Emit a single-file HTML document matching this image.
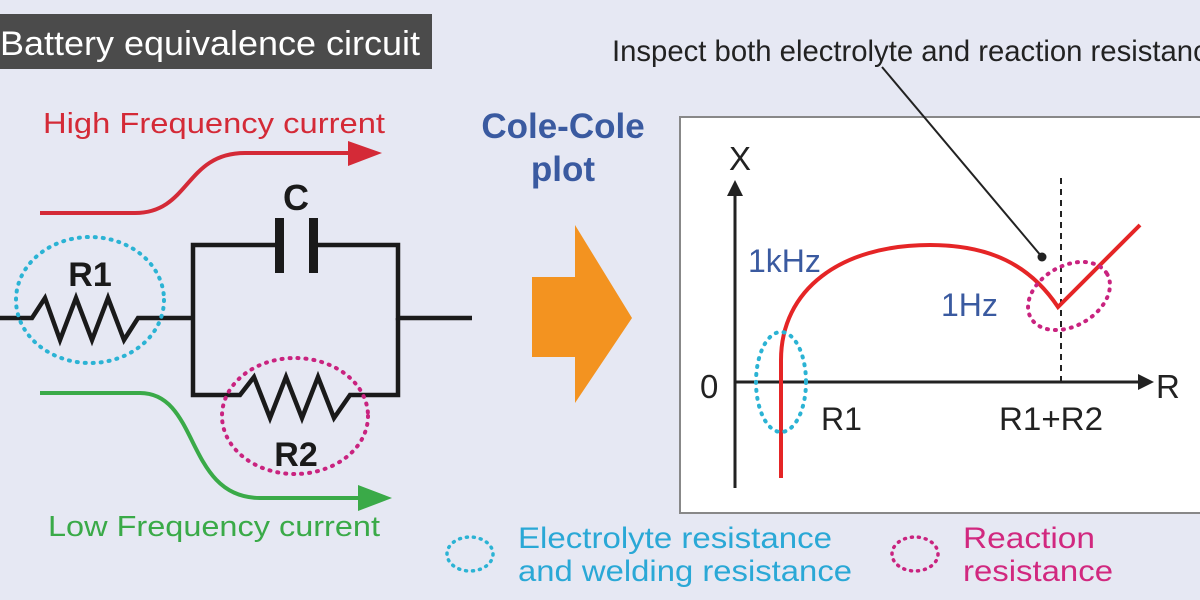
<!DOCTYPE html>
<html><head><meta charset="utf-8"><style>
html,body{margin:0;padding:0;background:#e6e8f3;}
svg{display:block;font-family:"Liberation Sans",sans-serif;}
</style></head><body>
<svg width="1200" height="600" viewBox="0 0 1200 600" xmlns="http://www.w3.org/2000/svg">
<rect width="1200" height="600" fill="#e6e8f3"/>
<!-- title -->
<rect x="0" y="14" width="432" height="55" fill="#4b4b4b"/>
<text x="0" y="55" font-size="34" fill="#fff" textLength="420" lengthAdjust="spacingAndGlyphs">Battery equivalence circuit</text>

<!-- High freq -->
<text x="43" y="133" font-size="29" fill="#d42a37" textLength="342" lengthAdjust="spacingAndGlyphs">High Frequency current</text>
<path d="M40 213 L135 213 C190 213 185 153 245 153 L352 153" fill="none" stroke="#d42a37" stroke-width="4"/>
<polygon points="348,141 382,153 348,166" fill="#d42a37"/>

<!-- Low freq -->
<path d="M40 393 L140 393 C200 393 185 498 260 498 L362 498" fill="none" stroke="#3aaa48" stroke-width="4"/>
<polygon points="358,485 392,498 358,511" fill="#3aaa48"/>
<text x="48" y="536" font-size="29" fill="#3aaa48" textLength="332" lengthAdjust="spacingAndGlyphs">Low Frequency current</text>

<!-- circuit -->
<g stroke="#1a1a1a" stroke-width="4.5" fill="none" stroke-linejoin="miter">
<path d="M0 318 L32 318 L45 298 L60 340 L76 298 L92 340 L108 298 L124 340 L138 318 L193 318"/>
<path d="M193 318 L193 245 L280 245 M313 245 L398 245 L398 318 L472 318"/>
<path d="M193 318 L193 395 L240 395 L254 377 L270 418 L286 377 L302 418 L318 377 L334 418 L350 395 L398 395 L398 318"/>
</g>
<rect x="275" y="218" width="9" height="55" fill="#1a1a1a"/>
<rect x="309" y="218" width="9" height="55" fill="#1a1a1a"/>
<text x="296" y="210" font-size="36" font-weight="bold" fill="#1a1a1a" text-anchor="middle">C</text>
<text x="90" y="286" font-size="34" font-weight="bold" fill="#1a1a1a" text-anchor="middle">R1</text>
<text x="296" y="466" font-size="34" font-weight="bold" fill="#1a1a1a" text-anchor="middle">R2</text>
<ellipse cx="90" cy="300" rx="74" ry="63" fill="none" stroke="#2bb3d4" stroke-width="4" stroke-dasharray="1 7" stroke-linecap="round"/>
<ellipse cx="295" cy="416" rx="73" ry="58" fill="none" stroke="#c9237f" stroke-width="4" stroke-dasharray="1 7" stroke-linecap="round"/>

<!-- Cole-Cole -->
<text x="563" y="138" font-size="35" font-weight="bold" fill="#3a5aa0" text-anchor="middle">Cole-Cole</text>
<text x="563" y="181" font-size="35" font-weight="bold" fill="#3a5aa0" text-anchor="middle">plot</text>
<polygon points="532,277 575,277 575,225 632,318 575,403 575,357 532,357" fill="#f39320"/>

<!-- plot box -->
<rect x="680" y="117" width="540" height="396" fill="#fff" stroke="#888" stroke-width="2"/>
<text x="612" y="61" font-size="30" fill="#222" textLength="612" lengthAdjust="spacingAndGlyphs">Inspect both electrolyte and reaction resistance</text>
<line x1="882" y1="67" x2="1042" y2="257" stroke="#222" stroke-width="2"/>
<circle cx="1042" cy="257" r="4.5" fill="#222"/>

<!-- axes -->
<line x1="735" y1="488" x2="735" y2="195" stroke="#222" stroke-width="3"/>
<polygon points="727,196 735,180 743,196" fill="#222"/>
<line x1="735" y1="382" x2="1140" y2="382" stroke="#222" stroke-width="3"/>
<polygon points="1138,374 1154,382 1138,390" fill="#222"/>
<line x1="1061" y1="178" x2="1061" y2="382" stroke="#222" stroke-width="2" stroke-dasharray="6 5"/>
<text x="740" y="170" font-size="33" fill="#222" text-anchor="middle">X</text>
<text x="1156" y="398" font-size="33" fill="#222">R</text>
<text x="700" y="398" font-size="33" fill="#222">0</text>
<text x="821" y="430" font-size="32" fill="#222">R1</text>
<text x="999" y="430" font-size="32" fill="#222" textLength="104" lengthAdjust="spacingAndGlyphs">R1+R2</text>
<text x="748" y="272" font-size="32" fill="#3a5aa0">1kHz</text>
<text x="941" y="316" font-size="32" fill="#3a5aa0">1Hz</text>

<path d="M781 478 L781 360 C781 290 840 245 930 245 C990 245 1030 265 1058 307 L1140 225" fill="none" stroke="#e52526" stroke-width="4"/>
<ellipse cx="781" cy="382" rx="25" ry="50" fill="none" stroke="#2bb3d4" stroke-width="4" stroke-dasharray="1 7" stroke-linecap="round"/>
<ellipse cx="1069" cy="296" rx="44" ry="30" transform="rotate(-30 1069 296)" fill="none" stroke="#c9237f" stroke-width="4" stroke-dasharray="1 7" stroke-linecap="round"/>

<!-- legend -->
<ellipse cx="470" cy="554" rx="23" ry="17" fill="none" stroke="#2bb3d4" stroke-width="3.5" stroke-dasharray="1 6" stroke-linecap="round"/>
<text x="518" y="548" font-size="30" fill="#2aa8d6" textLength="314" lengthAdjust="spacingAndGlyphs">Electrolyte resistance</text>
<text x="518" y="581" font-size="30" fill="#2aa8d6" textLength="334" lengthAdjust="spacingAndGlyphs">and welding resistance</text>
<ellipse cx="915" cy="554" rx="23" ry="17" fill="none" stroke="#c9237f" stroke-width="3.5" stroke-dasharray="1 6" stroke-linecap="round"/>
<text x="963" y="548" font-size="30" fill="#d1287f" textLength="132" lengthAdjust="spacingAndGlyphs">Reaction</text>
<text x="963" y="581" font-size="30" fill="#d1287f" textLength="150" lengthAdjust="spacingAndGlyphs">resistance</text>
</svg>
</body></html>
